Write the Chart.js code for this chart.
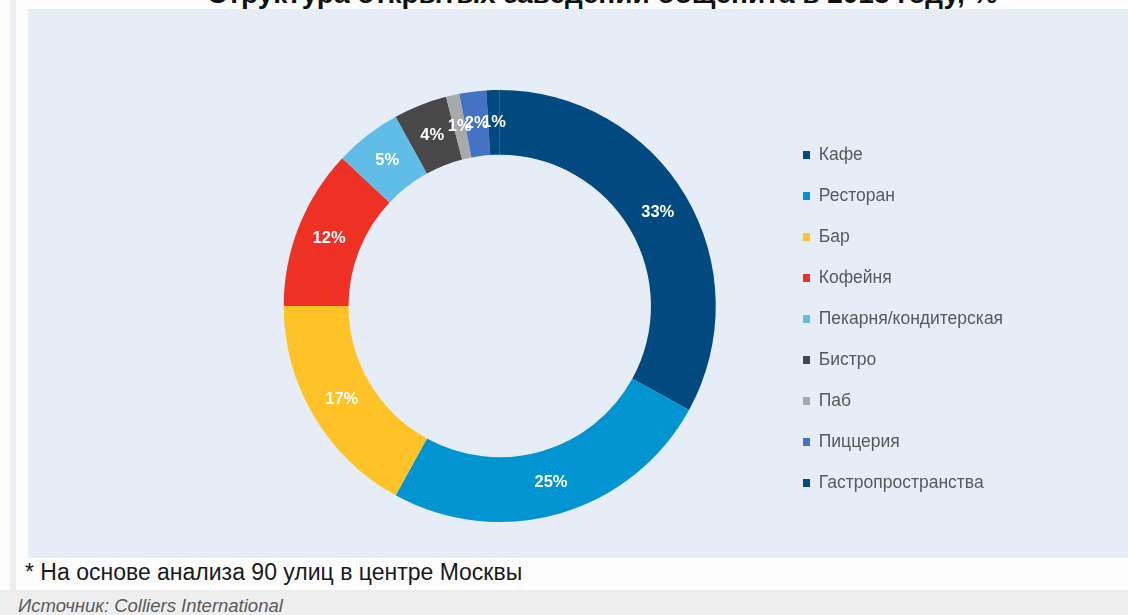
<!DOCTYPE html>
<html>
<head>
    <meta charset="utf-8">
    <title>Структура открытых заведений общепита</title>
    <script src="https://cdn.jsdelivr.net/npm/chart.js@4.4.1/dist/chart.umd.min.js"></script>
    <style>
        html, body {
            margin: 0;
            padding: 0;
            width: 1128px;
            height: 615px;
            overflow: hidden;
            background: #fdfdfd;
            font-family: "Liberation Sans", Arial, sans-serif;
            position: relative;
        }
        .side-strip {
            position: absolute;
            left: 10px;
            top: 0;
            width: 6px;
            height: 590px;
            background: #efedee;
        }
        .title {
            position: absolute;
            left: 207px;
            top: -20px;
            white-space: nowrap;
            font-size: 28px;
            line-height: 28px;
            font-weight: bold;
            color: #111;
        }
        .chart-box {
            position: absolute;
            left: 28px;
            top: 9px;
            width: 1100px;
            height: 549px;
            background: #e6edf7;
        }
        .note {
            position: absolute;
            left: 25px;
            top: 561px;
            font-size: 23px;
            line-height: 23px;
            color: #1a1a1a;
            white-space: nowrap;
        }
        .source-band {
            position: absolute;
            left: 0;
            top: 590px;
            width: 1128px;
            height: 25px;
            background: #efeeef;
        }
        .source {
            position: absolute;
            left: 18px;
            top: 595px;
            font-size: 18.5px;
            font-style: italic;
            color: #5a5a5a;
            white-space: nowrap;
        }
    </style>
</head>
<body>
    <div class="side-strip"></div>
    <div class="title">Структура открытых заведений общепита в 2018 году, %</div>
    <div class="chart-box"><canvas id="donut"></canvas></div>
    <div class="note">* На основе анализа 90 улиц в центре Москвы</div>
    <div class="source-band"></div>
    <div class="source">Источник: Colliers International</div>

    <script>
        const categories = ['Кафе', 'Ресторан', 'Бар', 'Кофейня', 'Пекарня/кондитерская',
                            'Бистро', 'Паб', 'Пиццерия', 'Гастропространства'];
        const shares = [33, 25, 17, 12, 5, 4, 1, 2, 1];
        const colors = ['#004a80', '#0095d0', '#ffc328', '#ee3124', '#5fbde6',
                        '#484848', '#a9a9a9', '#4472c4', '#004a80'];

        Chart.defaults.font.family = '"Liberation Sans", Arial, sans-serif';

        // legend geometry
        const CANVAS_W = 1100;
        const LEGEND_FONT = 17.5;
        const LEGEND_PAD = 23.5;
        const BOX_W = 7;
        const LEGEND_LEFT = 803 - 28 - LEGEND_PAD;

        // measure the longest label so the legend lands where the original has it
        const measure = document.createElement('canvas').getContext('2d');
        measure.font = LEGEND_FONT + 'px "Liberation Sans", Arial, sans-serif';
        const textW = Math.max(...categories.map(c => measure.measureText(c).width));
        const legendW = LEGEND_PAD + BOX_W + LEGEND_FONT / 2 + textW + 10;
        const padRight = CANVAS_W - LEGEND_LEFT - legendW;

        // white percentage labels in the middle of each ring slice
        const pctLabels = {
            id: 'pctLabels',
            afterDatasetsDraw(chart) {
                const ctx = chart.ctx;
                const meta = chart.getDatasetMeta(0);
                ctx.save();
                ctx.font = 'bold 16.5px "Liberation Sans", Arial, sans-serif';
                ctx.fillStyle = '#ffffff';
                ctx.textAlign = 'center';
                ctx.textBaseline = 'middle';
                meta.data.forEach((arc, i) => {
                    const p = arc.tooltipPosition();
                    ctx.fillText(shares[i] + '%', p.x, p.y);
                });
                ctx.restore();
            }
        };

        new Chart(document.getElementById('donut'), {
            type: 'doughnut',
            data: {
                labels: categories,
                datasets: [{
                    data: shares,
                    backgroundColor: colors,
                    borderWidth: 0
                }]
            },
            options: {
                responsive: true,
                maintainAspectRatio: false,
                animation: false,
                cutout: '70%',
                layout: {
                    padding: { top: 81, bottom: 36, left: 192, right: padRight }
                },
                plugins: {
                    tooltip: { enabled: false },
                    legend: {
                        position: 'right',
                        title: {
                            display: true,
                            text: '',
                            font: { size: 10, lineHeight: 1 },
                            padding: { top: 16, bottom: 0 }
                        },
                        labels: {
                            boxWidth: BOX_W,
                            boxHeight: 8,
                            padding: LEGEND_PAD,
                            color: '#595959',
                            font: { size: LEGEND_FONT }
                        }
                    }
                }
            },
            plugins: [pctLabels]
        });
    </script>
</body>
</html>
